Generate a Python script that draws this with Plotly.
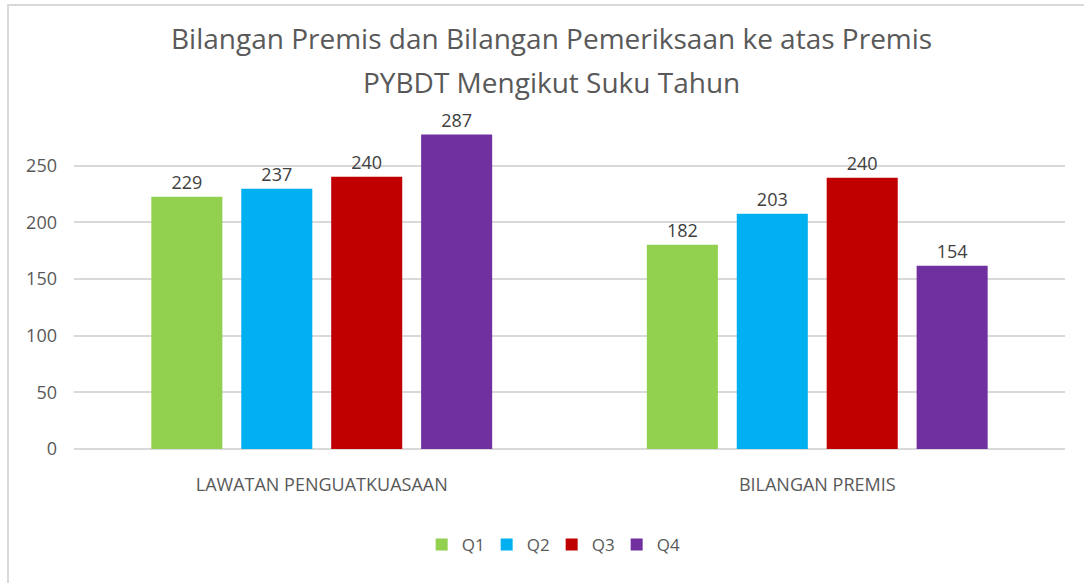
import plotly.graph_objects as go

categories = ["LAWATAN PENGUATKUASAAN", "BILANGAN PREMIS"]
series_names = ["Q1", "Q2", "Q3", "Q4"]
colors = ["#92D050", "#00B0F0", "#C00000", "#7030A0"]
# bar heights as drawn in the picture
q1_values = [222.6, 180.2]
q2_values = [229.7, 207.6]
q3_values = [240.3, 239.4]
q4_values = [277.4, 161.7]
# data labels as printed
q1_labels = ["229", "182"]
q2_labels = ["237", "203"]
q3_labels = ["240", "240"]
q4_labels = ["287", "154"]
title_lines = ["Bilangan Premis dan Bilangan Pemeriksaan ke atas Premis",
               "PYBDT Mengikut Suku Tahun"]

values = [q1_values, q2_values, q3_values, q4_values]
labels = [q1_labels, q2_labels, q3_labels, q4_labels]

FONT = "Open Sans"
GREY = "#595959"

fig = go.Figure()
for name, vals, labs, col in zip(series_names, values, labels, colors):
    fig.add_trace(go.Bar(
        x=categories, y=vals, name=name, marker_color=col,
        marker_line_width=0,
        text=labs, textposition="outside", cliponaxis=False,
        textfont=dict(family=FONT, size=18, color="#404040"),
    ))

fig.update_layout(
    width=1084, height=583,
    paper_bgcolor="white", plot_bgcolor="white",
    margin=dict(l=74, r=19, t=126, b=134, autoexpand=False),
    barmode="group", bargap=0.274, bargroupgap=0.21,
    font=dict(family=FONT, color=GREY),
    showlegend=True,
    legend=dict(orientation="h", x=0.482, xanchor="center", y=-0.297, yanchor="middle",
                font=dict(family=FONT, size=17, color=GREY),
                entrywidth=20, entrywidthmode="pixels"),
    xaxis=dict(showgrid=False, showline=False, ticks="", ticklabelstandoff=23,
               tickfont=dict(family=FONT, size=18, color=GREY)),
    yaxis=dict(range=[0, 285], tickvals=[0, 50, 100, 150, 200, 250],
               showgrid=True, gridcolor="#D9D9D9", gridwidth=1.5,
               zeroline=True, zerolinecolor="#D9D9D9", zerolinewidth=1.5,
               ticks="", ticklabelstandoff=16,
               tickfont=dict(family=FONT, size=18, color=GREY)),
    annotations=[
        dict(text=title_lines[0], xref="paper", yref="paper", x=0.4823, y=1.2724,
             xanchor="center", yanchor="middle", showarrow=False,
             font=dict(family=FONT, size=28, color=GREY)),
        dict(text=title_lines[1], xref="paper", yref="paper", x=0.4823, y=1.1362,
             xanchor="center", yanchor="middle", showarrow=False,
             font=dict(family=FONT, size=28, color=GREY)),
    ],
    shapes=[dict(type="rect", xref="paper", yref="paper",
                 x0=-0.0666, x1=1.05, y0=-0.6, y1=1.375,
                 line=dict(color="#D9D9D9", width=2), fillcolor="rgba(0,0,0,0)")],
)

fig.write_html("out.html", config={"displayModeBar": False},
               post_script="document.body.style.margin='0px';")
